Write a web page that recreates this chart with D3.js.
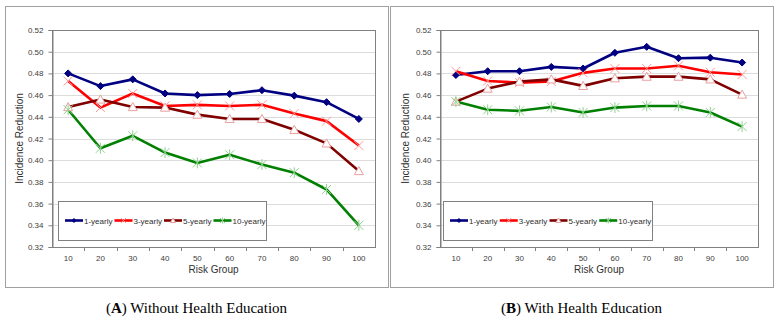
<!DOCTYPE html>
<html><head><meta charset="utf-8">
<script src="https://cdn.jsdelivr.net/npm/d3@7"></script>
<style>body{margin:0;background:#fff}svg{display:block}</style>
</head><body>
<svg id="c" width="780" height="319"></svg>
<script>
const categories = [10,20,30,40,50,60,70,80,90,100];
const yTicks = [0.32,0.34,0.36,0.38,0.40,0.42,0.44,0.46,0.48,0.50,0.52];
const seriesNames = ["1-yearly","3-yearly","5-yearly","10-yearly"];
const A_1 = [0.480,0.4683,0.4745,0.4615,0.460,0.461,0.4645,0.4595,0.4535,0.438];
const A_3 = [0.473,0.4485,0.4615,0.450,0.451,0.450,0.451,0.443,0.436,0.4135];
const A_5 = [0.449,0.456,0.449,0.4485,0.442,0.438,0.438,0.428,0.4155,0.390];
const A_10 = [0.4465,0.411,0.4225,0.407,0.3975,0.405,0.396,0.3885,0.373,0.340];
const B_1 = [0.4785,0.482,0.482,0.486,0.4845,0.499,0.5045,0.494,0.4945,0.490];
const B_3 = [0.482,0.473,0.4715,0.4725,0.4805,0.4845,0.4845,0.487,0.481,0.479];
const B_5 = [0.454,0.466,0.4725,0.4745,0.4685,0.4755,0.477,0.477,0.4745,0.4605];
const B_10 = [0.454,0.4465,0.4455,0.449,0.444,0.4485,0.450,0.450,0.444,0.431];

const styles = [
  {line:"#000080", marker:"diamond", mfill:"#000080", mstroke:"#000080"},
  {line:"#ff0000", marker:"x", mfill:"none", mstroke:"#ff9999"},
  {line:"#800000", marker:"tri", mfill:"#fff", mstroke:"#e8a0a0"},
  {line:"#008000", marker:"star", mfill:"none", mstroke:"#8fd08f"}
];

const svg = d3.select("#c");

function marker(g, type, st, x, y, s) {
  if (type==="diamond") {
    g.append("path").attr("d",`M${x},${y-s}L${x+s},${y}L${x},${y+s}L${x-s},${y}Z`)
      .attr("fill",st.mfill).attr("stroke",st.mstroke).attr("stroke-width",1);
  } else if (type==="x") {
    g.append("path").attr("d",`M${x-s},${y-s}L${x+s},${y+s}M${x-s},${y+s}L${x+s},${y-s}`)
      .attr("stroke",st.mstroke).attr("stroke-width",1).attr("fill","none");
  } else if (type==="tri") {
    g.append("path").attr("d",`M${x},${y-s}L${x+s},${y+s*0.8}L${x-s},${y+s*0.8}Z`)
      .attr("fill",st.mfill).attr("stroke",st.mstroke).attr("stroke-width",1);
  } else {
    g.append("path").attr("d",`M${x-s},${y-s}L${x+s},${y+s}M${x-s},${y+s}L${x+s},${y-s}M${x},${y-s*1.2}L${x},${y+s*1.2}`)
      .attr("stroke",st.mstroke).attr("stroke-width",1).attr("fill","none");
  }
}

function panel(cfg) {
  const {box, plot, data, legend, caption, letter, ylabX} = cfg;
  svg.append("rect").attr("x",box[0]+0.5).attr("y",box[1]+0.5).attr("width",box[2]-box[0]).attr("height",box[3]-box[1])
    .attr("fill","#fff").attr("stroke","#a0a0a0").attr("stroke-width",1);
  const x = d3.scaleBand().domain(categories).range([plot[0],plot[2]]);
  const y = d3.scaleLinear().domain([0.32,0.52]).range([plot[3],plot[1]]);
  const g = svg.append("g");
  g.selectAll("line.grid").data(yTicks.slice(1,-1)).join("line")
    .attr("x1",plot[0]).attr("x2",plot[2]).attr("y1",d=>Math.round(y(d))+0.5).attr("y2",d=>Math.round(y(d))+0.5)
    .attr("stroke","#dcdcdc").attr("stroke-width",1);
  g.append("rect").attr("x",plot[0]+0.5).attr("y",plot[1]+0.5).attr("width",plot[2]-plot[0]).attr("height",plot[3]-plot[1])
    .attr("fill","none").attr("stroke","#808080").attr("stroke-width",1);
  const ya = d3.axisLeft(y).tickValues(yTicks).tickFormat(d3.format(".2f")).tickSize(4).tickPadding(5);
  const yg = g.append("g").attr("transform",`translate(${plot[0]+0.5},0)`).call(ya);
  yg.select(".domain").attr("stroke","#808080");
  yg.selectAll(".tick line").attr("stroke","#808080");
  yg.selectAll("text").attr("font-family","Liberation Sans, Arial, sans-serif").attr("font-size",8).attr("fill","#404040");
  const xa = d3.axisBottom(x).tickSize(0).tickPadding(8);
  const xg = g.append("g").attr("transform",`translate(0,${plot[3]+0.5})`).call(xa);
  xg.select(".domain").remove();
  xg.selectAll("text").attr("font-family","Liberation Sans, Arial, sans-serif").attr("font-size",8).attr("fill","#404040");
  g.selectAll("line.xt").data(categories.slice(1)).join("line")
    .attr("x1",d=>Math.round(x(d))+0.5).attr("x2",d=>Math.round(x(d))+0.5)
    .attr("y1",plot[3]).attr("y2",plot[3]+4).attr("stroke","#808080");
  g.append("text").attr("x",(plot[0]+plot[2])/2).attr("y",plot[3]+26).attr("text-anchor","middle")
    .attr("font-family","Liberation Sans, Arial, sans-serif").attr("font-size",10).attr("fill","#303030").text("Risk Group");
  g.append("text").attr("transform",`translate(${ylabX},${(plot[1]+plot[3])/2}) rotate(-90)`).attr("text-anchor","middle")
    .attr("font-family","Liberation Sans, Arial, sans-serif").attr("font-size",10).attr("fill","#303030").text("Incidence Reduction");
  const line = d3.line().x((d,i)=>x(categories[i])+x.bandwidth()/2).y(d=>y(d));
  data.forEach((s,k)=>{
    g.append("path").datum(s).attr("d",line).attr("fill","none").attr("stroke",styles[k].line)
      .attr("stroke-width",2.6).attr("stroke-linejoin","round");
  });
  data.forEach((s,k)=>{
    s.forEach((v,i)=>marker(g,styles[k].marker,styles[k],x(categories[i])+x.bandwidth()/2,y(v),styles[k].marker==="diamond"?3.5:4.5));
  });
  g.append("rect").attr("x",legend[0]+0.5).attr("y",legend[1]+0.5).attr("width",legend[2]-legend[0]).attr("height",legend[3]-legend[1])
    .attr("fill","#fff").attr("stroke","#808080");
  const ly = (legend[1]+legend[3])/2;
  const step = (legend[2]-legend[0]-10)/4;
  seriesNames.forEach((n,k)=>{
    const lx = legend[0]+7+k*step;
    g.append("line").attr("x1",lx).attr("x2",lx+18).attr("y1",ly).attr("y2",ly).attr("stroke",styles[k].line).attr("stroke-width",2.6);
    marker(g,styles[k].marker,styles[k],lx+9,ly,styles[k].marker==="diamond"?2:2.5);
    g.append("text").attr("x",lx+19).attr("y",ly+3).attr("font-family","Liberation Sans, Arial, sans-serif")
      .attr("font-size",8).attr("fill","#303030").text(n);
  });
  const cap = svg.append("text").attr("x",(box[0]+box[2])/2).attr("y",313).attr("text-anchor","middle")
    .attr("font-family","Liberation Serif, 'Times New Roman', serif").attr("font-size",15).attr("fill","#000");
  cap.append("tspan").text("(");
  cap.append("tspan").attr("font-weight","bold").text(letter);
  cap.append("tspan").text(") "+caption);
}

panel({box:[5,6,388,287], plot:[52,30,375,247], data:[A_1,A_3,A_5,A_10],
  legend:[58,201,266,240], caption:"Without Health Education", letter:"A", ylabX:23});
panel({box:[390,6,773,287], plot:[440,30,758,247], data:[B_1,B_3,B_5,B_10],
  legend:[443,201,652,240], caption:"With Health Education", letter:"B", ylabX:409});
</script>
</body></html>
